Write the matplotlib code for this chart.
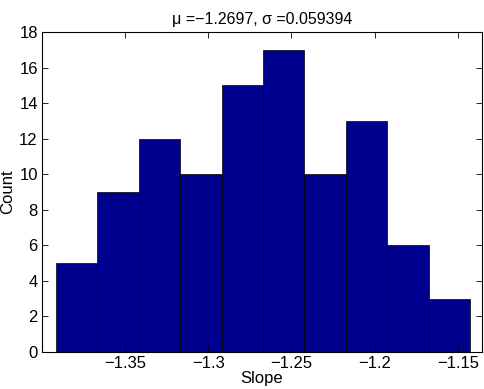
import matplotlib
matplotlib.use("Agg")
import matplotlib.pyplot as plt

# histogram counts
counts = [5, 9, 12, 10, 15, 17, 10, 13, 6, 3]
first_edge = -1.3914
bin_width = 0.02486
xticks = [-1.35, -1.3, -1.25, -1.2, -1.15]
xtick_labels = ["\u22121.35", "\u22121.3", "\u22121.25", "\u22121.2", "\u22121.15"]
yticks = list(range(0, 19, 2))
title = "\u03bc =\u22121.2697, \u03c3 =0.059394"

plt.rcParams['font.family'] = ['Liberation Sans', 'DejaVu Sans']
plt.rcParams['font.size'] = 12

fig = plt.figure(figsize=(4.85, 3.89), dpi=100)
ax = fig.add_axes([42/485, 1 - 352/389, 440/485, 320/389])

lefts = [first_edge + i * bin_width for i in range(len(counts))]
ax.bar(lefts, counts, width=bin_width, align='edge',
       color='#00008f', edgecolor='black', linewidth=0.5)

ax.set_xlim(-1.3998, -1.1356)
ax.set_ylim(0, 18)
ax.set_xticks(xticks)
ax.set_xticklabels(xtick_labels)
ax.set_yticks(yticks)
ax.tick_params(direction='in', length=4, width=0.6, top=True, right=True, pad=3)
for s in ax.spines.values():
    s.set_linewidth(0.8)

ax.set_title(title, fontsize=11.5, pad=6)
ax.set_xlabel("Slope", labelpad=0)
ax.set_ylabel("Count", labelpad=3)

fig.savefig("out.png", dpi=100)
